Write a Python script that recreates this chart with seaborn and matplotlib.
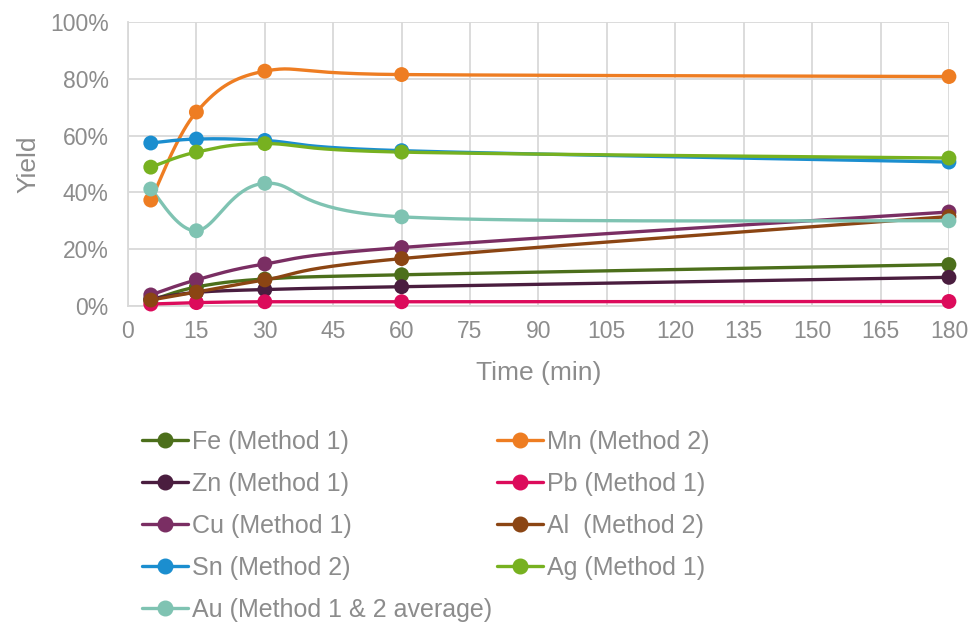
import numpy as np
import pandas as pd
import matplotlib
matplotlib.use("Agg")
import matplotlib.pyplot as plt
from matplotlib.lines import Line2D
import seaborn as sns

sns.set_theme(style="white")
plt.rcParams["font.family"] = ["Liberation Sans", "DejaVu Sans"]

time_min = [5, 15, 30, 60, 180]

fe = [0.020, 0.067, 0.095, 0.110, 0.146]
mn = [0.373, 0.683, 0.827, 0.815, 0.808]
zn = [0.025, 0.048, 0.058, 0.068, 0.101]
pb = [0.007, 0.012, 0.015, 0.015, 0.016]
cu = [0.039, 0.092, 0.148, 0.206, 0.331]
al = [0.021, 0.049, 0.092, 0.167, 0.315]
sn = [0.574, 0.588, 0.583, 0.547, 0.507]
ag = [0.489, 0.542, 0.572, 0.542, 0.521]
au = [0.412, 0.265, 0.432, 0.314, 0.300]

series_labels = [
    "Fe (Method 1)", "Mn (Method 2)", "Zn (Method 1)", "Pb (Method 1)",
    "Cu (Method 1)", "Al  (Method 2)", "Sn (Method 2)", "Ag (Method 1)",
    "Au (Method 1 & 2 average)",
]
series_values = [fe, mn, zn, pb, cu, al, sn, ag, au]
series_colors = [
    "#4c6f1b", "#ee7d22", "#4a1d3f", "#dc0b5b",
    "#7a2e63", "#8b4513", "#1b8ecf", "#77b120", "#7fc3b2",
]

x_ticks = list(range(0, 181, 15))
y_ticks = [0, 0.2, 0.4, 0.6, 0.8, 1.0]


def smooth_curve(x, y, steps=40):
    """Catmull-Rom style smoothing through the given points."""
    x = np.asarray(x, float)
    y = np.asarray(y, float)
    n = len(x)
    xs, ys = [], []
    for i in range(n - 1):
        p0 = np.array([x[max(i - 1, 0)], y[max(i - 1, 0)]])
        p1 = np.array([x[i], y[i]])
        p2 = np.array([x[i + 1], y[i + 1]])
        p3 = np.array([x[min(i + 2, n - 1)], y[min(i + 2, n - 1)]])
        c1 = p1 + (p2 - p0) / 6.0
        c2 = p2 - (p3 - p1) / 6.0
        t = np.linspace(0, 1, steps, endpoint=(i == n - 2))[:, None]
        pts = ((1 - t) ** 3) * p1 + 3 * ((1 - t) ** 2) * t * c1 + 3 * (1 - t) * t ** 2 * c2 + t ** 3 * p2
        xs.extend(pts[:, 0])
        ys.extend(pts[:, 1])
    return np.array(xs), np.array(ys)


fig = plt.figure(figsize=(9.8, 6.24), dpi=100)
ax = fig.add_axes([0.1306, 0.5096, 0.8377, 0.4551])

grid_color = "#d9d9d9"
text_color = "#8c8c8c"

for label, vals, color in zip(series_labels, series_values, series_colors):
    sx, sy = smooth_curve(time_min, vals)
    curve = pd.DataFrame({"t": sx, "v": sy})
    sns.lineplot(data=curve, x="t", y="v", ax=ax, color=color, linewidth=2.4,
                 sort=False, estimator=None, zorder=3)
    pts = pd.DataFrame({"t": time_min, "v": vals})
    sns.scatterplot(data=pts, x="t", y="v", ax=ax, color=color, s=115,
                    edgecolor="none", zorder=4, clip_on=False)

ax.set_xlim(0, 180)
ax.set_ylim(0, 1.0)
ax.set_xticks(x_ticks)
ax.set_yticks(y_ticks)
ax.set_xticklabels([str(v) for v in x_ticks])
ax.set_yticklabels([f"{int(round(v * 100))}%" for v in y_ticks])
ax.tick_params(axis="both", length=0, labelsize=16.5, colors=text_color)
ax.tick_params(axis="x", pad=10)
ax.tick_params(axis="y", pad=14)
ax.grid(True, color=grid_color, linewidth=1.3)
ax.set_axisbelow(True)
for side in ["top", "right"]:
    ax.spines[side].set_visible(False)
for side in ["left", "bottom"]:
    ax.spines[side].set_color(grid_color)
    ax.spines[side].set_linewidth(1.3)

ax.set_xlabel("Time (min)", fontsize=19, color=text_color, labelpad=13)
ax.set_ylabel("Yield", fontsize=19, color=text_color, labelpad=7)

handles = [
    Line2D([], [], color=c, linewidth=2.4, marker="o", markersize=10.5)
    for c in series_colors
]
order = [0, 2, 4, 6, 8, 1, 3, 5, 7]
leg = fig.legend([handles[i] for i in order], [series_labels[i] for i in order],
                 ncol=2, loc="upper left", bbox_to_anchor=(0.145, 0.311),
                 frameon=False, fontsize=18, handlelength=1.85, handletextpad=0.15,
                 labelspacing=0.72, columnspacing=0.2, borderaxespad=0,
                 borderpad=0)
for txt in leg.get_texts():
    txt.set_color(text_color)

fig.savefig("out.png", dpi=100)
